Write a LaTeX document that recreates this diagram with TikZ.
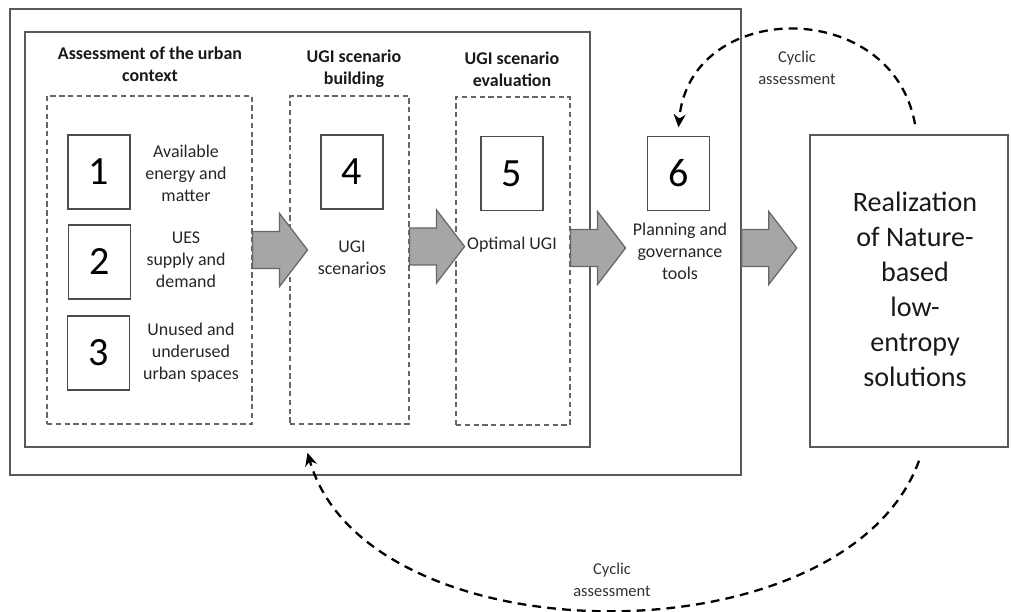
\documentclass[tikz,border=0pt]{standalone}
\usepackage{fontspec}
\setmainfont{Carlito}
\usetikzlibrary{arrows.meta,calc}

\begin{document}
\begin{tikzpicture}[
  frame/.style={draw=black!65, line width=0.9pt, inner sep=0pt},
  group/.style={draw=black!60, dash pattern=on 3pt off 2pt, line width=0.65pt, inner sep=0pt},
  num/.style={draw=black!70, line width=0.8pt, minimum width=1.24cm, minimum height=1.48cm,
              inner sep=0pt, font=\fontsize{22.8}{24}\selectfont},
  txt/.style={align=center, font=\fontsize{10.2}{12.5}\selectfont, text=black!85},
  head/.style={align=center, font=\bfseries\fontsize{10.2}{12.5}\selectfont, text=black!90},
  blockarr/.style={fill=gray!70, draw=black!60, line width=0.7pt, line join=miter},
  cyc/.style={dash pattern=on 5pt off 3.5pt, line width=1.3pt, -{Stealth[length=2.6mm,width=2.4mm]}},
  ann/.style={align=center, font=\fontsize{9.4}{12.5}\selectfont, text=black!80},
]
\useasboundingbox (0,0) rectangle (20.22,12.24);

% --- frames ---
\node[frame, minimum width=14.62cm, minimum height=9.32cm] (outer) at (7.51,7.40) {};
\node[frame, minimum width=11.30cm, minimum height=8.30cm] (inner) at (6.15,7.45) {};
\node[group, minimum width=4.10cm, minimum height=6.56cm] (d1) at (2.99,7.04) {};
\node[group, minimum width=2.38cm, minimum height=6.56cm] (d2) at (6.99,7.04) {};
\node[group, minimum width=2.28cm, minimum height=6.56cm] (d3) at (10.26,7.02) {};
\node[frame, minimum width=3.96cm, minimum height=6.24cm] (real) at (18.18,6.42) {};

% --- headings ---
\node[head] (h1) at (3.00,10.96) {Assessment of the urban\\context};
\node[head] (h2) at (7.08,10.86) {UGI scenario\\building};
\node[head] (h3) at (10.24,10.86) {UGI scenario\\evaluation};

% --- steps ---
\node[num] (b1) at (1.98,8.80) {1};
\node[num] (b2) at (1.99,7.00) {2};
\node[num] (b3) at (1.97,5.18) {3};
\node[num] (b4) at (7.04,8.80) {4};
\node[num] (b5) at (10.24,8.77) {5};
\node[num] (b6) at (13.57,8.77) {6};

\node[txt] (t1) at (3.72,8.78) {Available\\energy and\\matter};
\node[txt] (t2) at (3.72,7.04) {UES\\supply and\\demand};
\node[txt] (t3) at (3.82,5.18) {Unused and\\underused\\urban spaces};
\node[txt] (t4) at (7.04,7.08) {UGI\\scenarios};
\node[txt] (t5) at (10.24,7.34) {Optimal UGI};
\node[txt] (t6) at (13.60,7.22) {Planning and\\governance\\tools};

\node[align=center, font=\fontsize{16}{19.9}\selectfont, text=black!90] (t7) at (18.30,6.45)
  {Realization\\of Nature-\\based\\low-\\entropy\\solutions};

% --- block arrows ---
\foreach \n/\y in {d1/7.24, d2/7.31, d3/7.28, outer/7.28}
  \draw[blockarr] (\n.east |- 0,\y) -- ++(0,0.37) -- ++(0.54,0) -- ++(0,0.36) -- ++(0.56,-0.73)
    -- ++(-0.56,-0.73) -- ++(0,0.36) -- ++(-0.54,0) -- cycle;

% --- cyclic assessment ---
\draw[cyc] ([xshift=1.2mm,yshift=2mm]real.north) to[out=100,in=85,looseness=1.4] ([yshift=1.7mm]b6.north);
\draw[cyc] ([xshift=2mm,yshift=-2.6mm]real.south) to[out=-110,in=-74,looseness=0.9] ([yshift=-1mm]inner.south);

\node[ann] (c1) at (15.94,10.88) {Cyclic\\assessment};
\node[ann] (c2) at (12.24,0.64) {Cyclic\\assessment};
\end{tikzpicture}
\end{document}
